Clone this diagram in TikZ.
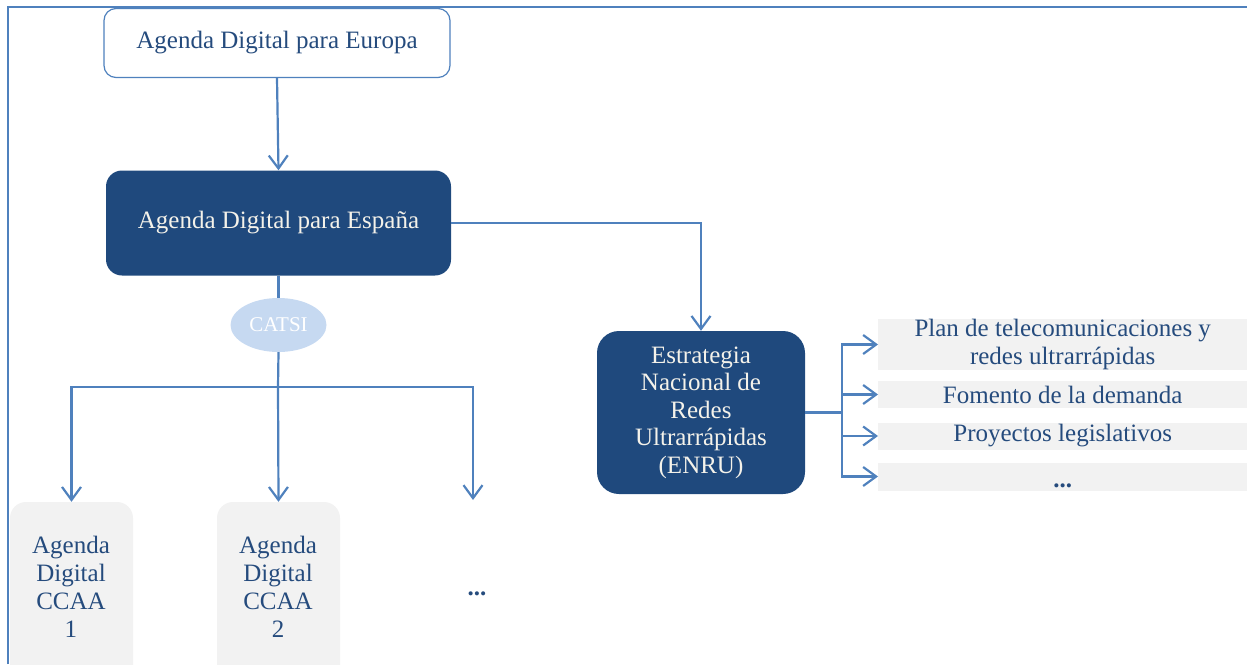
\documentclass[tikz,border=0pt]{standalone}
\usepackage{fontspec}
\setmainfont{Liberation Serif}
\usetikzlibrary{arrows.meta,shapes.geometric}

\definecolor{linkblue}{HTML}{4F81BD}
\definecolor{navy}{HTML}{1F497D}
\definecolor{inktext}{HTML}{254B7D}
\definecolor{palegray}{HTML}{F2F2F2}
\definecolor{paleblue}{HTML}{C6D9F1}
\definecolor{softwhite}{HTML}{F4F2EA}

\begin{document}
\begin{tikzpicture}[x=1pt,y=-1pt,
  txt/.style={font=\fontsize{25}{27.5}\selectfont, align=center, inner sep=0pt},
  outlinebox/.style={draw=linkblue, line width=1.2pt, fill=white, rounded corners=12pt,
    txt, text=inktext, minimum width=346pt, minimum height=69pt},
  navybox/.style={fill=navy, txt, text=softwhite},
  graybar/.style={fill=palegray, txt, text=inktext, anchor=west, minimum width=369pt},
  regionbox/.style={fill=palegray, rounded corners=16pt, minimum width=123pt, minimum height=188pt, inner sep=0pt},
  regiontext/.style={txt, text=inktext, font=\fontsize{25}{28}\selectfont},
  conn/.style={draw=linkblue, line width=2.2pt},
  flow/.style={conn, -{Straight Barb[length=13pt,width=19pt,line width=2.2pt]}}
]
\path[use as bounding box] (0,0) rectangle (1247,664);

% outer frame
\draw[linkblue, line width=2.2pt] (8,664) -- (8,7) -- (1247,7);

% top-level agendas
\node[outlinebox] (eu) at (277,43) {Agenda Digital para Europa};
\node[navybox, rounded corners=16pt, minimum width=345pt, minimum height=105pt] (es) at (278.5,223) {Agenda Digital para España};

% coordination committee
\node[ellipse, fill=paleblue, text=white, inner sep=0pt, minimum width=96pt, minimum height=54pt,
      font=\fontsize{21}{23}\selectfont] (catsi) at (278.5,325) {CATSI};

% national strategy
\node[navybox, rounded corners=22pt, minimum width=208pt, minimum height=163pt] (enru) at (701,412.5)
  {Estrategia\\Nacional de\\Redes\\Ultrarrápidas\\(ENRU)};

% strategy lines of action
\node[graybar, minimum height=43pt] (b1) at (878,344.5) {Plan de telecomunicaciones y\\redes ultrarrápidas};
\node[graybar, minimum height=27pt] (b2) at (878,394.5) {Fomento de la demanda};
\node[graybar, minimum height=27pt] (b3) at (878,436) {Proyectos legislativos};
\node[graybar, minimum height=28pt, text depth=0pt] (b4) at (878,476.5) {\raisebox{-11pt}{\textbf{...}}};

% regional agendas (boxes run past the lower edge)
\begin{scope}
\clip (0,0) rectangle (1247,664);
\node[regionbox] (r1box) at (71.5,596) {};
\node[regionbox] (r2box) at (278.5,596) {};
\end{scope}
\node[regiontext] (r1) at (71,587) {Agenda\\Digital\\CCAA\\1};
\node[regiontext] (r2) at (278,587) {Agenda\\Digital\\CCAA\\2};
\node[regiontext] (r3) at (477,594) {\textbf{...}};

% junction points
\coordinate (hub) at (278,387);
\coordinate (r3top) at (473,500);
\coordinate (fan) at ([xshift=37pt]enru.east);

% connectors
\draw[flow] (eu.south) -- (es.north);
\draw[flow] (es.east) -| (enru.north);
\draw[conn] (es.south) -- (catsi.north);
\draw[conn] (catsi.south) -- (hub);
\draw[flow] (hub) -| (r1box.north);
\draw[flow] (hub) -- (r2box.north);
\draw[flow] (hub) -| (r3top);

\draw[conn] (enru.east) -- (fan);
\draw[flow] (fan) |- (b1.west);
\draw[flow] (fan) |- (b2.west);
\draw[flow] (fan) |- (b3.west);
\draw[flow] (fan) |- (b4.west);
\end{tikzpicture}
\end{document}
